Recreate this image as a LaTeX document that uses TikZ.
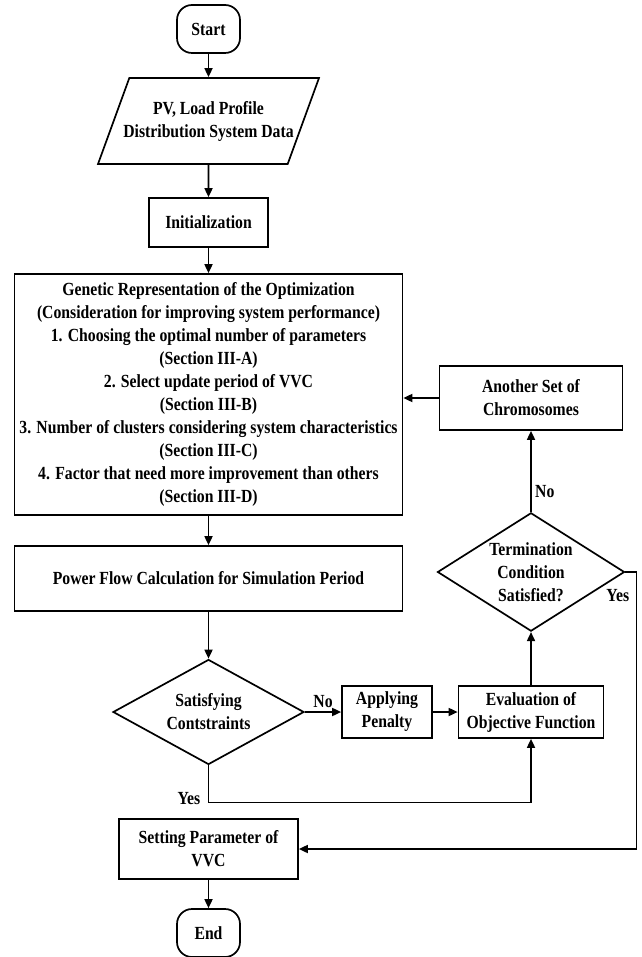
\documentclass[tikz,border=0pt]{standalone}
\usepackage{fontspec}
\setmainfont{Liberation Serif}[FakeStretch=0.85]
\usepackage{tikz}
\usetikzlibrary{shapes.geometric}
\usetikzlibrary{arrows.meta}

\begin{document}
\begin{tikzpicture}[x=1pt,y=-1pt,
	font=\fontsize{18.5}{23}\selectfont\bfseries,
	every node/.style={align=center},
	startstop/.style={rectangle,rounded corners=15pt,draw,line width=1.7pt,minimum width=63pt,minimum height=48pt},
	io/.style={trapezium,trapezium left angle=70,trapezium right angle=110,inner xsep=-6pt,inner ysep=23pt,draw,line width=1.7pt},
	process/.style={rectangle,draw,line width=1.7pt,inner sep=2pt},
	decision/.style={diamond,draw,line width=1.7pt,inner sep=-6pt},
	arr/.style={line width=1.7pt,-{Triangle[length=9pt,width=8pt]}}]
\useasboundingbox (0,0) rectangle (641,957);
% main column
\node [startstop] (start) at (208.5,29) {Start};
\node [io] (data) at (208.5,121) {PV, Load Profile\\Distribution System Data};
\node [process,minimum width=119pt,minimum height=49pt] (init) at (208.5,222.5) {Initialization};
\node [process,minimum width=388pt,minimum height=241pt] (genetic) at (208.5,394.5)
	{Genetic Representation of the Optimization\\(Consideration for improving system performance)\\
	1. Choosing the optimal number of parameters\\(Section III-A)\\
	2. Select update period of VVC\\(Section III-B)\\
	3. Number of clusters considering system characteristics\\(Section III-C)\\
	4. Factor that need more improvement than others\\(Section III-D)};
\node [process,minimum width=388pt,minimum height=65pt] (power) at (208.5,578.5) {Power Flow Calculation for Simulation Period};
\node [decision,minimum width=191pt,minimum height=105pt] (check) at (208.5,712) {Satisfying\\Contstraints};
\node [process,minimum width=179pt,minimum height=60pt] (setting) at (208.5,849) {Setting Parameter of\\VVC};
\node [startstop] (finish) at (208.5,933) {End};
% right column
\node [process,minimum width=90pt,minimum height=52pt] (penalty) at (387,712) {Applying\\Penalty};
\node [process,minimum width=145pt,minimum height=52pt] (eval) at (531,712) {Evaluation of\\Objective Function};
\node [decision,minimum width=187pt,minimum height=103pt] (done) at (531,572) {Termination\\Condition\\Satisfied?};
\node [process,minimum width=183pt,minimum height=64pt] (another) at (531,398) {Another Set of\\Chromosomes};

\draw [arr] (start) -- (data);
\draw [arr] (data) -- (init);
\draw [arr] (init) -- (genetic);
\draw [arr] (genetic) -- (power);
\draw [arr] (power) -- (check);
\draw [arr] (check) -- node[above] {No} (penalty);
\draw [arr] (penalty) -- (eval);
\draw [arr] (check.south) -- ++(0,37) node[left,xshift=-4pt,yshift=4pt] {Yes} -| (eval.south);
\draw [arr] (eval) -- (done);
\draw [arr] (done) -- node[right,pos=0.25] {No} (another);
\draw [arr] (another) -- (another -| genetic.east);
\draw [arr] (done.east) -- ++(11,0) node[below left,xshift=-3pt,yshift=-13pt] {Yes} |- (setting.east);
\draw [arr] (setting) -- (finish);
\end{tikzpicture}
\end{document}
